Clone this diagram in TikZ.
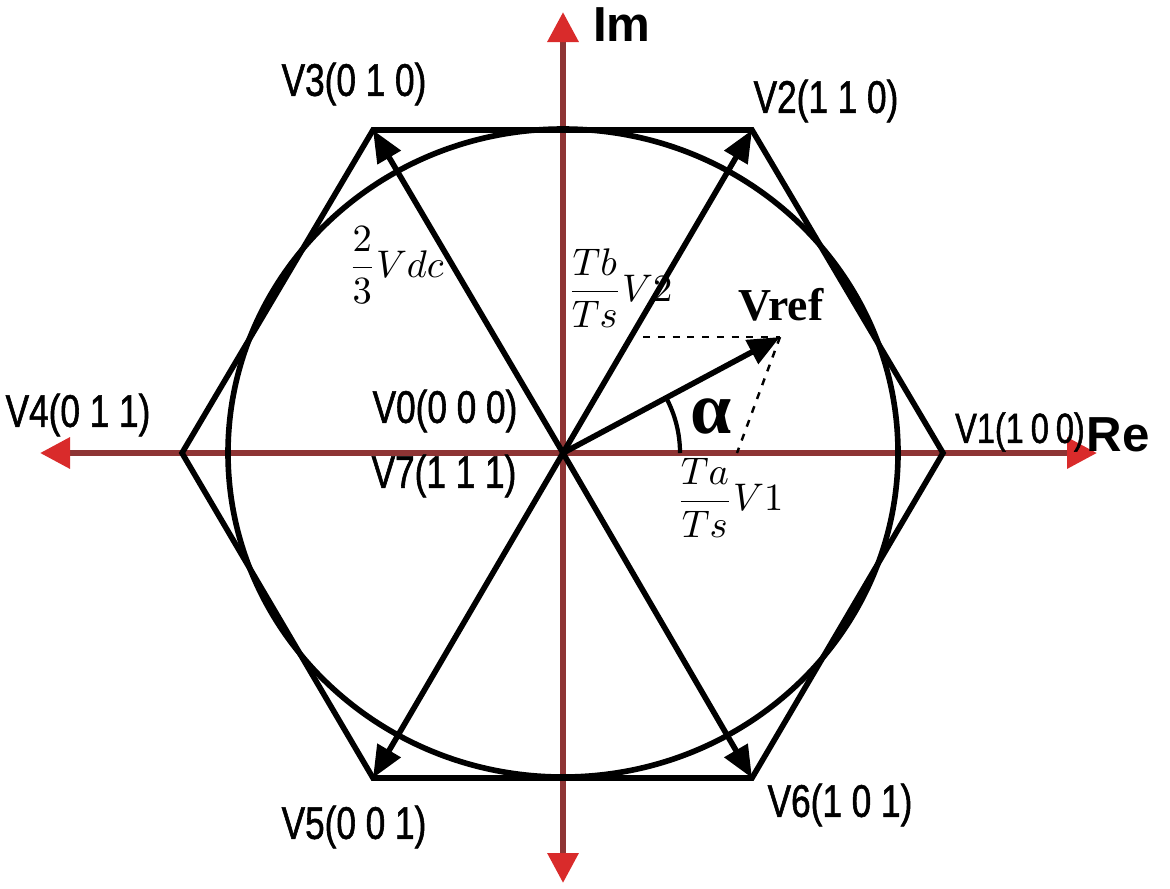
\documentclass[tikz,border=0pt]{standalone}
\usepackage{amsmath}
\usepackage{fontspec}
\setmainfont{Liberation Serif}
\newfontfamily\narrowsf[FakeStretch=0.77, FakeBold=1.2]{Liberation Sans}
\newfontfamily\plainsf{Liberation Sans}
\usepackage{xcolor}
\usepackage{tikz}
\usetikzlibrary{arrows.meta, positioning}
\definecolor{axisred}{HTML}{8E3434}
\definecolor{tipred}{HTML}{D92B2B}

\begin{document}
\begin{tikzpicture}[
    vlabel/.style={font=\narrowsf\fontsize{13}{13}\selectfont, inner sep=0pt},
    axislabel/.style={font=\plainsf\bfseries\fontsize{14}{14}\selectfont, inner sep=0pt},
    fraclabel/.style={font=\fontsize{10.5}{12}\selectfont, inner sep=0pt},
    axisline/.style={draw=axisred, line width=1.8pt, -{Triangle[length=3mm, width=3mm, color=tipred]}},
    vec/.style={draw=black, line width=1.6pt, -{Triangle[length=3.2mm, width=2.6mm]}},
    hexline/.style={draw=black, line width=1.6pt, line join=miter},
    guide/.style={draw=black, line width=0.7pt, dash pattern=on 2pt off 2.2pt}
]
    \useasboundingbox (0,0) rectangle (11.7,8.88);

    % Origin and hexagon corners
    \coordinate (O) at (5.63, 4.35);
    \coordinate (V1) at (9.43, 4.35);
    \coordinate (V2) at (7.52, 7.58);
    \coordinate (V3) at (3.73, 7.58);
    \coordinate (V4) at (1.82, 4.35);
    \coordinate (V5) at (3.73, 1.10);
    \coordinate (V6) at (7.52, 1.10);

    % Axis ends
    \coordinate (REEND) at (10.97, 4.35);
    \coordinate (REBACK) at (0.40, 4.35);
    \coordinate (IMEND) at (5.63, 8.76);
    \coordinate (IMBACK) at (5.63, 0.05);

    % Real and imaginary axes
    \draw[axisline] (O) -- (REEND);
    \draw[axisline] (O) -- (REBACK);
    \draw[axisline] (O) -- (IMEND);
    \draw[axisline] (O) -- (IMBACK);

    % Hexagon and inscribed circle
    \draw[hexline] (V1) -- (V2) -- (V3) -- (V4) -- (V5) -- (V6) -- cycle;
    \draw[hexline] (O) ellipse [x radius=3.35, y radius=3.24];

    % Active vectors
    \draw[vec] (O) -- (V2);
    \draw[vec] (O) -- (V3);
    \draw[vec] (O) -- (V5);
    \draw[vec] (O) -- (V6);

    % Reference vector and its projections
    \coordinate (VREF) at (7.80, 5.51);
    \coordinate (PB) at (6.43, 5.51);
    \coordinate (PA) at (7.37, 4.35);
    \draw[guide] (PB) -- (VREF);
    \draw[guide] (VREF) -- (PA);
    \draw[vec] (O) -- (VREF);
    \draw[line width=1.2pt] ([shift={(0:1.17)}]O) arc[start angle=0, end angle=28, radius=1.17];

    % Vector labels
    \node[vlabel] (L3) at (3.54, 8.04) {V3(0 1 0)};
    \node[vlabel] (L2) at (8.26, 7.87) {V2(1 1 0)};
    \node[vlabel] (L4) at (0.78, 4.73) {V4(0 1 1)};
    \node[vlabel] (L0) at (4.45, 4.77) {V0(0 0 0)};
    \node[vlabel] (L7) at (4.44, 4.12) {V7(1 1 1)};
    \node[vlabel, font=\narrowsf\fontsize{12}{12}\selectfont] (L1) at (10.20, 4.56) {V1(1\,0\,0)};
    \node[vlabel] (L5) at (3.54, 0.61) {V5(0 0 1)};
    \node[vlabel] (L6) at (8.40, 0.83) {V6(1 0 1)};

    % Axis names
    \node[axislabel] (IM) at (6.22, 8.63) {Im};
    \node[axislabel] (RE) at (11.18, 4.53) {Re};

    % Magnitudes and angle
    \node[fraclabel] (VDC) at (3.96, 6.23) {$\dfrac{2}{3}Vdc$};
    \node[fraclabel] (TB) at (6.20, 6.00) {$\dfrac{Tb}{Ts}V2$};
    \node[fraclabel] (TA) at (7.30, 3.90) {$\dfrac{Ta}{Ts}V1$};
    \node[inner sep=0pt, font=\bfseries\fontsize{13}{13}\selectfont] (VREFL) at (7.81, 5.83) {Vref};
    \node[inner sep=0pt, font=\bfseries\fontsize{21}{21}\selectfont] (ALPHA) at (7.11, 4.72) {α};
\end{tikzpicture}
\end{document}
